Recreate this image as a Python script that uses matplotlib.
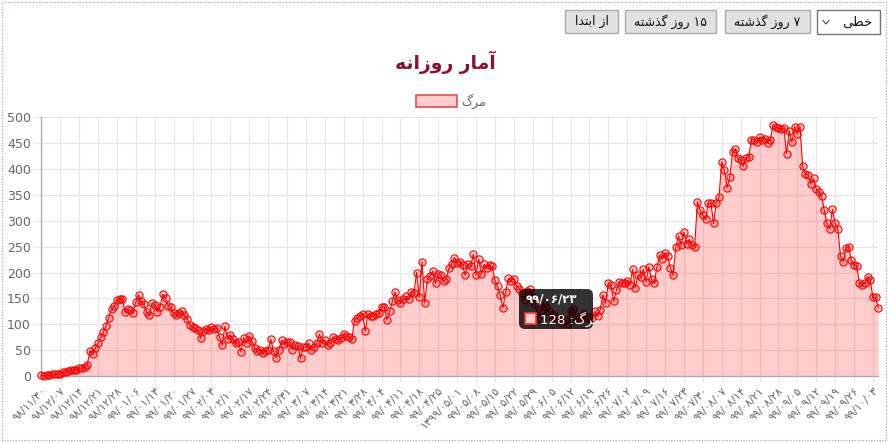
import matplotlib
matplotlib.use("Agg")
import matplotlib.pyplot as plt
import matplotlib.patches as mpatches
from matplotlib.transforms import Affine2D
from matplotlib.lines import Line2D
import numpy as np

W, H = 889, 443

# daily deaths, one value per day from 98/11/30 to 99/10/05
deaths_feb = [2, 0, 2, 1, 3, 4, 4, 3, 7, 8, 9]
deaths_mar = [11, 12, 11, 15, 15, 17, 21, 49, 43, 54, 63, 75, 85, 97, 113, 129,
              135, 147, 149, 149, 123, 129, 127, 122, 143, 157, 144, 139, 123, 117, 141]
deaths_apr = [138, 124, 134, 158, 151, 136, 133, 121, 117, 122, 125, 117, 111, 98, 94,
              92, 89, 73, 87, 91, 88, 94, 90, 93, 76, 60, 96, 71, 80, 71]
deaths_may = [63, 65, 47, 74, 63, 78, 68, 55, 48, 51, 45, 48, 50, 71, 48, 35, 51, 69,
              62, 65, 66, 51, 59, 58, 34, 57, 56, 63, 50, 57, 63]
deaths_jun = [81, 64, 70, 59, 63, 75, 72, 70, 74, 81, 78, 75, 71, 107, 113, 115, 120,
              87, 120, 115, 116, 119, 121, 133, 134, 109, 125, 144, 162, 147]
deaths_jul = [141, 148, 154, 148, 163, 160, 200, 153, 221, 142, 188, 194, 203, 179, 198,
              195, 183, 188, 209, 217, 229, 219, 221, 215, 195, 216, 212, 235, 196, 226, 197]
deaths_aug = [216, 208, 215, 212, 185, 174, 156, 132, 163, 189, 184, 188, 174, 169,
              161, 147, 165, 168, 153, 139, 112, 126, 141, 133, 125, 118, 118, 112, 110,
              103, 109]
deaths_sep = [101, 125, 129, 114, 110, 116, 119, 112, 114, 112, 125,
              115, 128, 157, 141, 179, 176, 144, 166, 182, 179, 179, 184, 176, 206, 171,
              195, 192, 206, 182]
deaths_oct = [211, 187, 179, 211, 234, 227, 238, 231, 209, 195, 250, 271, 253, 278, 255,
              264, 253, 250, 337, 321, 311, 303, 334, 334, 295, 335, 345, 414, 398, 364, 385]
deaths_nov = [432, 438, 421, 418, 405, 421, 423, 457, 456, 452, 461, 457, 459, 451, 457,
              485, 481, 479, 477, 479, 430, 474, 452, 482, 468, 482, 405, 390, 389, 371]
deaths_dec = [382, 361, 356, 347, 320, 295, 284, 322, 295, 284, 232, 221, 247, 250, 224,
              215, 213, 179, 176, 179, 192, 186, 152, 152, 132]

deaths = (deaths_feb + deaths_mar + deaths_apr + deaths_may + deaths_jun + deaths_jul
          + deaths_aug + deaths_sep + deaths_oct + deaths_nov + deaths_dec)

tick_labels = [
    "۹۸/۱۱/۳۰", "۹۸/۱۲/۰۷", "۹۸/۱۲/۱۴", "۹۸/۱۲/۲۱", "۹۸/۱۲/۲۸", "۹۹/۰۱/۰۶",
    "۹۹/۰۱/۱۳", "۹۹/۰۱/۲۰", "۹۹/۰۱/۲۷", "۹۹/۰۲/۰۳", "۹۹/۰۲/۱۰", "۹۹/۰۲/۱۷",
    "۹۹/۰۲/۲۴", "۹۹/۰۲/۳۱", "۹۹/۰۳/۰۷", "۹۹/۰۳/۱۴", "۹۹/۰۳/۲۱", "۹۹/۰۳/۲۸",
    "۹۹/۰۴/۰۴", "۹۹/۰۴/۱۱", "۹۹/۰۴/۱۸", "۹۹/۰۴/۲۵", "۱۳۹۹/۰۵/۰۱", "۹۹/۰۵/۰۸",
    "۹۹/۰۵/۱۵", "۹۹/۰۵/۲۲", "۹۹/۰۵/۲۹", "۹۹/۰۶/۰۵", "۹۹/۰۶/۱۲", "۹۹/۰۶/۱۹",
    "۹۹/۰۶/۲۶", "۹۹/۰۷/۰۲", "۹۹/۰۷/۰۹", "۹۹/۰۷/۱۶", "۹۹/۰۷/۲۳", "۹۹/۰۷/۳۰",
    "۹۹/۰۸/۰۷", "۹۹/۰۸/۱۴", "۹۹/۰۸/۲۱", "۹۹/۰۸/۲۸", "۹۹/۰۹/۰۵", "۹۹/۰۹/۱۲",
    "۹۹/۰۹/۱۹", "۹۹/۰۹/۲۶", "۹۹/۱۰/۰۳",
]
tick_step = 7
yticks = list(range(0, 501, 50))

tooltip_date = "۹۹/۰۶/۲۳"
tooltip_value = 128

# Persian strings, pre-shaped into presentation forms in visual order
# (matplotlib does no Arabic shaping / bidi on its own)
TITLE = "\uFEEA\uFEE7\uFE8D\uFEAF\uFEED\uFEAD \uFEAD\uFE8E\uFEE3\uFE81"   # آمار روزانه
LEGEND = "\u06AF\uFEAE\uFEE3"                                             # مرگ
BTN_START = "\uFE8D\uFEAA\uFE98\uFE91\uFE8D \uFEAF\uFE8D"                 # از ابتدا
BTN_15 = "\uFEEA\uFE98\uFEB7\uFEAC\uFB94 \uFEAF\uFEED\uFEAD ۱۵"           # ۱۵ روز گذشته
BTN_7 = "\uFEEA\uFE98\uFEB7\uFEAC\uFB94 \uFEAF\uFEED\uFEAD ۷"             # ۷ روز گذشته
SELECT = "\uFBFD\uFEC4\uFEA7"                                             # خطی

FONT = ["DejaVu Sans", "Noto Sans"]
plt.rcParams["font.family"] = FONT

RED = "#ff0000"
FILL = (1, 0, 0, 0.2)
GRID = "#e6e6e6"
TXT = "#666666"

fig = plt.figure(figsize=(W / 100, H / 100), dpi=100)
fig.patch.set_facecolor("white")
ax = fig.add_axes([41.3 / W, 1 - 376 / H, (878.3 - 41.3) / W, (376 - 117.3) / H])

x = np.arange(len(deaths))
ax.fill_between(x, 0, deaths, color=FILL, lw=0, zorder=2)
ax.plot(x, deaths, color=RED, lw=0.8, marker="o", ms=5.2, mfc=FILL, mec=RED,
        mew=0.8, zorder=3, clip_on=False)

ax.set_xlim(0, len(deaths) - 1)
ax.set_ylim(0, 500)
ax.set_xticks(x[::tick_step])
ax.set_xticklabels(tick_labels, rotation=45, ha="right", va="top",
                   rotation_mode="anchor", fontsize=7.8, color=TXT)
ax.set_yticks(yticks)
ax.set_yticklabels([str(v) for v in yticks], fontsize=9, color=TXT)
ax.grid(True, color=GRID, lw=0.8, zorder=0)
ax.set_axisbelow(True)
ax.tick_params(axis="y", length=6, width=0.8, color=GRID, pad=1.5)
ax.tick_params(axis="x", length=4, width=0.8, color=GRID, pad=3)
for s in ("top", "right"):
    ax.spines[s].set_visible(False)
for s in ("left", "bottom"):
    ax.spines[s].set_color("#aaaaaa")
    ax.spines[s].set_linewidth(0.9)

# overlay elements placed in pixel coordinates (origin top-left)
PX = Affine2D().scale(1, -1).translate(0, H)


def rect(x0, y0, w, h, fc, ec, lw=1.0, **kw):
    p = mpatches.Rectangle((x0, y0), w, h, transform=PX, facecolor=fc,
                           edgecolor=ec, linewidth=lw, **kw)
    fig.add_artist(p)
    return p


def label(x0, y0, s, **kw):
    fig.text(x0, y0, s, transform=PX, **kw)


# title + legend
label(445, 62, TITLE, ha="center", va="center", fontsize=13.5,
      fontweight="bold", color="#8a1230")
rect(416, 95, 41, 12, "#ffcccc", "#e05050", lw=1.2)
label(461, 101, LEGEND, ha="left", va="center", fontsize=9, color=TXT)

# buttons at top
for x0, x1, s in [(565, 618, BTN_START), (625, 716, BTN_15), (725, 810, BTN_7)]:
    rect(x0, 10, x1 - x0, 23, "#e1e1e1", "#adadad", lw=1)
    label((x0 + x1) / 2, 21.5, s, ha="center", va="center", fontsize=9, color="#111111")
rect(817, 10, 63, 24, "white", "#767676", lw=1)
label(872, 22, SELECT, ha="right", va="center", fontsize=9.5, color="#111111")
fig.add_artist(Line2D([823, 826, 829], [20.5, 24, 20.5], transform=PX,
                      color="#444444", lw=0.8))

# tooltip
tip = mpatches.FancyBboxPatch((519, 289), 74, 40, boxstyle="round,pad=0,rounding_size=6",
                              transform=PX, facecolor=(0, 0, 0, 0.8), edgecolor="none")
fig.add_artist(tip)
label(526, 299, tooltip_date, ha="left", va="center", fontsize=8.5,
      fontweight="bold", color="white")
rect(525, 313, 11, 11, "#ffcccc", "#ff3333", lw=1.2)
label(540, 319, f"{tooltip_value} :" + LEGEND, ha="left", va="center",
      fontsize=9.5, color="white")

# dotted page frame
fig.add_artist(mpatches.Rectangle((1.5, 2), 884, 438, transform=PX, fill=False,
                                  edgecolor="#9a9acb", linestyle=(0, (1, 1.5)), lw=0.8))

fig.savefig("out.png", dpi=100, facecolor="white")
